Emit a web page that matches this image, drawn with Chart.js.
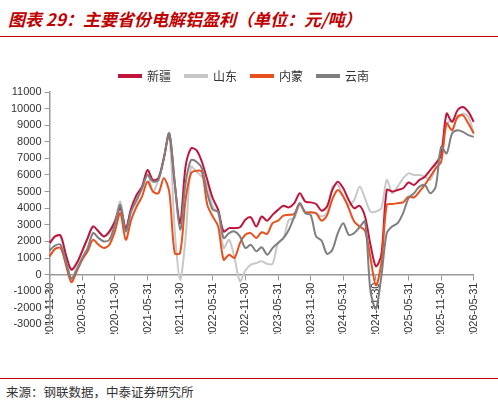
<!DOCTYPE html>
<html><head><meta charset="utf-8">
<script src="https://cdn.jsdelivr.net/npm/chart.js@4"></script>
<style>
body{margin:0;width:498px;height:406px;background:#fff;font-family:"Noto Sans CJK SC",sans-serif;position:relative;overflow:hidden}
#title{position:absolute;left:8px;top:6px;color:#c00000;font-size:17px;font-weight:bold;font-style:italic;}
#tl{position:absolute;left:0;top:36px;width:498px;border-top:1.5px solid #c00000}
#bl{position:absolute;left:0;top:378px;width:498px;border-top:1px solid #c00000}
#src{position:absolute;left:6px;top:382px;font-size:12.5px;color:#333}
#wrap{position:absolute;left:0;top:56px;width:490px;height:278px}
</style></head><body>
<div id="title">图表 29：主要省份电解铝盈利（单位：元/吨）</div>
<div id="tl"></div>
<div id="wrap"><canvas id="c"></canvas></div>
<div id="bl"></div>
<div id="src">来源：钢联数据，中泰证券研究所</div>
<script>
const seriesNames=["新疆","山东","内蒙","云南"];
const xinjiang=[1900,2300,2350,1200,300,700,1400,2200,2900,2600,2300,2600,3200,4000,2800,4000,4800,5300,6300,5700,5800,7000,8500,5500,3100,6500,7600,7500,6800,5700,4600,3900,2600,2800,2800,2850,3300,3450,2900,3500,3250,3600,3900,4150,4050,4300,4900,4400,4350,4250,3850,4100,5100,5600,5200,4500,4000,4150,3500,1800,500,1200,5100,5000,5100,5200,5550,5400,5700,5900,6300,6700,7200,9700,9200,9900,10100,9800,9200];
const shandong=[1800,2300,2350,1100,-250,500,1500,2200,2900,2600,2300,2500,3200,4400,2700,3900,4400,5200,6100,5000,5700,7000,8400,2700,-300,2200,6500,6200,5900,5400,4100,3700,1600,2100,1000,-400,250,600,700,800,650,650,1900,2200,3300,3400,4200,3800,3750,3700,3500,3700,5300,5400,4700,4200,4500,5300,4600,3800,3800,4000,5700,4900,5300,5800,6100,6000,6000,5900,5700,6500,7500,9100,9300,9400,9700,9500,8500];
const neimeng=[1100,1550,1600,600,-450,200,900,1400,2100,1800,1600,1800,2600,3700,2100,3300,4100,4700,5600,5000,4900,5800,5000,1300,1300,4500,6100,6250,6200,4200,3500,2900,900,1200,1000,1900,2400,2500,2200,2550,2450,3100,3250,3550,3600,3650,4300,3750,3750,3700,3250,3550,4550,5100,4700,4000,3200,2900,2650,1000,-650,700,4200,4250,4300,4350,4700,4650,5000,5400,5900,6400,6800,9100,8700,9500,9600,9100,8500];
const yunnan=[1450,1750,1800,800,-250,300,1000,1600,2500,2200,2000,2100,3000,4200,2600,3800,4500,5200,6000,5600,5700,7000,8500,5600,2700,5500,6900,6800,6400,4900,3900,3800,2200,2500,2600,2300,1600,1800,1400,1650,1200,1600,1900,2200,2700,3500,4300,3700,3600,2300,2050,1250,1500,2500,3100,2400,2500,2850,3200,-1000,-2050,-100,2500,2900,3100,3700,4600,4900,5300,5400,4900,5300,7700,7300,8500,8700,8600,8400,8300];
const colors=["#c0143c","#c8c8c8","#e8501e","#7f7f7f"];
const labels=[];
for(let i=0;i<xinjiang.length;i++){const m=(10+i)%12,y=2019+Math.floor((10+i)/12);const d=[31,28,31,30,31,30,31,31,30,31,30,31][m];labels.push(y+"-"+String(m+1).padStart(2,"0")+"-"+d);}
const data=[xinjiang,shandong,neimeng,yunnan];
new Chart(document.getElementById("c"),{type:"line",
data:{labels,datasets:data.map((d,k)=>({label:seriesNames[k],data:d,borderColor:colors[k],backgroundColor:colors[k],borderWidth:2,pointRadius:0,tension:0.3,order:[3,4,2,1][k]}))},
options:{responsive:true,maintainAspectRatio:false,animation:false,
layout:{padding:{left:8,right:10,top:0,bottom:0}},
plugins:{legend:{labels:{boxWidth:22,boxHeight:2,font:{size:12,family:"Noto Sans CJK SC"},color:"#333",padding:14,sort:(a,b)=>a.datasetIndex-b.datasetIndex}},tooltip:{enabled:false}},
scales:{x:{position:{y:0},grid:{drawOnChartArea:false,tickLength:5,color:c=>c.index%6===0?"#999":"rgba(0,0,0,0)"},border:{color:"#999",width:1.5},
ticks:{autoSkip:false,maxRotation:90,minRotation:90,font:{size:11,family:"Liberation Sans"},color:"#333",callback:(v,i)=>i%6===0?labels[i]:""}},
y:{min:-3000,max:11000,grid:{drawOnChartArea:false,tickLength:5,color:"#999"},border:{color:"#999",width:1.5},ticks:{stepSize:1000,font:{size:11,family:"Liberation Sans"},color:"#333",callback:v=>String(v)}}}}});
</script></body></html>
